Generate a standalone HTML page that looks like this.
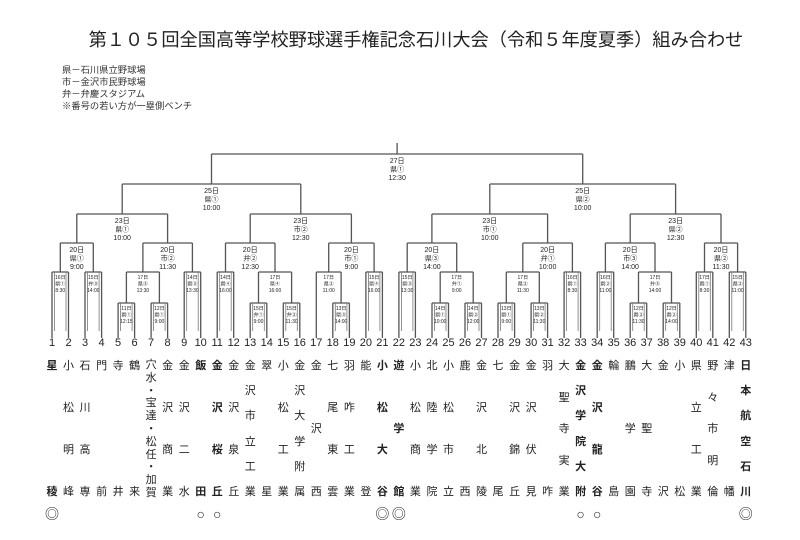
<!DOCTYPE html>
<html><head><meta charset="utf-8">
<style>
html,body{margin:0;padding:0;background:#fff;}
#wrap{position:relative;width:800px;height:540px;overflow:hidden;font-family:"Liberation Sans","Noto Sans CJK JP",sans-serif;color:#222;}
svg{position:absolute;left:0;top:0;}
.col{position:absolute;top:359px;height:140px;width:16px;display:flex;flex-direction:column;justify-content:space-between;align-items:center;font-size:11px;line-height:14px;}
.col span{display:block;height:14px;}
.b{font-weight:bold;}
.mk{position:absolute;top:506px;width:16px;text-align:center;font-size:14px;line-height:16px;}
</style></head><body><div id="wrap">
<svg width="800" height="540" xmlns="http://www.w3.org/2000/svg" font-family="Liberation Sans, Noto Sans CJK JP, sans-serif">
<text x="416" y="46" font-size="18.2" text-anchor="middle" fill="#222">第１０５回全国高等学校野球選手権記念石川大会（令和５年度夏季）組み合わせ</text>
<g font-size="9.3" fill="#333">
<text x="62" y="73">県－石川県立野球場</text>
<text x="62" y="85">市－金沢市民野球場</text>
<text x="62" y="97">弁－弁慶スタジアム</text>
<text x="62" y="109">※番号の若い方が一塁側ベンチ</text>
</g>
<g stroke="#555" stroke-width="1.3" fill="none">
<path d="M397.1,143 V154 M211.5,154 H582.7"/>
<path d="M211.5,154 V184 M122.2,184 H300.8 M582.7,154 V184 M489.8,184 H675.6"/>
<path d="M122.2,184 V214 M76.8,214 H167.6 M300.8,184 V214 M250.2,214 H351.4 M489.8,184 V214 M431.9,214 H547.6 M675.6,184 V214 M630.2,214 H721"/>
<path d="M76.8,214 V243 M60.3,243 H93.3 M167.6,214 V243 M142.9,243 H192.4 M250.2,214 V243 M225.5,243 H275 M351.4,214 V243 M328.7,243 H374.1 M431.9,214 V243 M407.2,243 H456.7 M547.6,214 V243 M522.8,243 H572.4 M630.2,214 V243 M605.4,243 H655 M721,214 V243 M704.5,243 H737.6"/>
<path d="M60.3,243V272 M93.3,243V272 M142.9,243V272 M192.4,243V272 M225.5,243V272 M275,243V272 M328.7,243V272 M374.1,243V272 M407.2,243V272 M456.7,243V272 M522.8,243V272 M572.4,243V272 M605.4,243V272 M655,243V272 M704.5,243V272 M737.6,243V272"/>
<path d="M52,272H68.5 M85,272H101.6 M126.4,272H159.4 M184.2,272H200.7 M217.2,272H233.7 M258.5,272H291.6 M316.3,272H341.1 M365.9,272H382.4 M398.9,272H415.4 M440.2,272H473.2 M506.3,272H539.3 M564.1,272H580.6 M597.2,272H613.7 M638.5,272H671.5 M696.3,272H712.8 M729.3,272H745.8"/>
<path d="M126.4,272V303 M159.4,272V303 M258.5,272V303 M291.6,272V303 M341.1,272V303 M440.2,272V303 M473.2,272V303 M506.3,272V303 M539.3,272V303 M638.5,272V303 M671.5,272V303"/>
<path d="M118.1,303H134.6 M151.1,303H167.6 M250.2,303H266.8 M283.3,303H299.8 M332.8,303H349.4 M432,303H448.5 M465,303H481.5 M498,303H514.6 M531.1,303H547.6 M630.2,303H646.7 M663.2,303H679.8"/>
<path d="M52,272V338 M68.5,272V338 M85,272V338 M101.6,272V338 M184.2,272V338 M200.7,272V338 M217.2,272V338 M233.7,272V338 M316.3,272V338 M365.9,272V338 M382.4,272V338 M398.9,272V338 M415.4,272V338 M564.1,272V338 M580.6,272V338 M597.2,272V338 M613.7,272V338 M696.3,272V338 M712.8,272V338 M729.3,272V338 M745.8,272V338"/>
<path d="M118.1,303V338 M134.6,303V338 M151.1,303V338 M167.6,303V338 M250.2,303V338 M266.8,303V338 M283.3,303V338 M299.8,303V338 M332.8,303V338 M349.4,303V338 M432,303V338 M448.5,303V338 M465,303V338 M481.5,303V338 M498,303V338 M514.6,303V338 M531.1,303V338 M547.6,303V338 M630.2,303V338 M646.7,303V338 M663.2,303V338 M679.8,303V338"/>
</g>
<g stroke="#777" stroke-width="0.8" fill="none">
<path d="M54.5,272V331 M66,272V331 M87.5,272V331 M99.1,272V331 M186.7,272V331 M198.2,272V331 M219.7,272V331 M231.2,272V331 M368.4,272V331 M379.9,272V331 M401.4,272V331 M412.9,272V331 M566.6,272V331 M578.1,272V331 M599.7,272V331 M611.2,272V331 M698.8,272V331 M710.3,272V331 M731.8,272V331 M743.3,272V331"/>
<path d="M120.6,303V331 M132.1,303V331 M153.6,303V331 M165.1,303V331 M252.7,303V331 M264.3,303V331 M285.8,303V331 M297.3,303V331 M335.3,303V331 M346.9,303V331 M434.5,303V331 M446,303V331 M467.5,303V331 M479,303V331 M500.5,303V331 M512.1,303V331 M533.6,303V331 M545.1,303V331 M632.7,303V331 M644.2,303V331 M665.7,303V331 M677.3,303V331"/>
</g>
<g font-size="7" text-anchor="middle" fill="#222">
<text x="397.1" y="163">27日</text><text x="397.1" y="171.5">県①</text><text x="397.1" y="180">12:30</text>
<text x="211.5" y="193">25日</text><text x="211.5" y="201.5">県①</text><text x="211.5" y="210">10:00</text>
<text x="582.7" y="193">25日</text><text x="582.7" y="201.5">県②</text><text x="582.7" y="210">10:00</text>
<text x="122.2" y="223">23日</text><text x="122.2" y="231.5">県①</text><text x="122.2" y="240">10:00</text>
<text x="300.8" y="223">23日</text><text x="300.8" y="231.5">市②</text><text x="300.8" y="240">12:30</text>
<text x="489.8" y="223">23日</text><text x="489.8" y="231.5">市①</text><text x="489.8" y="240">10:00</text>
<text x="675.6" y="223">23日</text><text x="675.6" y="231.5">県②</text><text x="675.6" y="240">12:30</text>
<text x="76.8" y="252">20日</text><text x="76.8" y="260.5">県①</text><text x="76.8" y="269">9:00</text>
<text x="167.6" y="252">20日</text><text x="167.6" y="260.5">市②</text><text x="167.6" y="269">11:30</text>
<text x="250.2" y="252">20日</text><text x="250.2" y="260.5">弁②</text><text x="250.2" y="269">12:30</text>
<text x="351.4" y="252">20日</text><text x="351.4" y="260.5">市①</text><text x="351.4" y="269">9:00</text>
<text x="431.9" y="252">20日</text><text x="431.9" y="260.5">県③</text><text x="431.9" y="269">14:00</text>
<text x="547.6" y="252">20日</text><text x="547.6" y="260.5">弁①</text><text x="547.6" y="269">10:00</text>
<text x="630.2" y="252">20日</text><text x="630.2" y="260.5">市③</text><text x="630.2" y="269">14:00</text>
<text x="721" y="252">20日</text><text x="721" y="260.5">県②</text><text x="721" y="269">11:30</text>
</g>
<g font-size="5" text-anchor="middle" fill="#222">
<text x="60.3" y="279">16日</text><text x="60.3" y="285.5">県①</text><text x="60.3" y="292">8:30</text>
<text x="93.3" y="279">15日</text><text x="93.3" y="285.5">弁③</text><text x="93.3" y="292">14:00</text>
<text x="142.9" y="279">17日</text><text x="142.9" y="285.5">県③</text><text x="142.9" y="292">13:30</text>
<text x="192.4" y="279">14日</text><text x="192.4" y="285.5">県③</text><text x="192.4" y="292">13:30</text>
<text x="225.5" y="279">14日</text><text x="225.5" y="285.5">県④</text><text x="225.5" y="292">16:00</text>
<text x="275" y="279">17日</text><text x="275" y="285.5">県④</text><text x="275" y="292">16:00</text>
<text x="328.7" y="279">17日</text><text x="328.7" y="285.5">県②</text><text x="328.7" y="292">11:00</text>
<text x="374.1" y="279">15日</text><text x="374.1" y="285.5">県④</text><text x="374.1" y="292">16:00</text>
<text x="407.2" y="279">15日</text><text x="407.2" y="285.5">県③</text><text x="407.2" y="292">13:30</text>
<text x="456.7" y="279">17日</text><text x="456.7" y="285.5">弁①</text><text x="456.7" y="292">9:00</text>
<text x="522.8" y="279">17日</text><text x="522.8" y="285.5">県②</text><text x="522.8" y="292">11:30</text>
<text x="572.4" y="279">16日</text><text x="572.4" y="285.5">県①</text><text x="572.4" y="292">8:30</text>
<text x="605.4" y="279">16日</text><text x="605.4" y="285.5">県②</text><text x="605.4" y="292">11:00</text>
<text x="655" y="279">17日</text><text x="655" y="285.5">弁③</text><text x="655" y="292">14:00</text>
<text x="704.5" y="279">17日</text><text x="704.5" y="285.5">県①</text><text x="704.5" y="292">8:30</text>
<text x="737.6" y="279">15日</text><text x="737.6" y="285.5">県②</text><text x="737.6" y="292">11:00</text>
<text x="126.4" y="310">11日</text><text x="126.4" y="316.5">県①</text><text x="126.4" y="323">12:15</text>
<text x="159.4" y="310">12日</text><text x="159.4" y="316.5">県①</text><text x="159.4" y="323">9:00</text>
<text x="258.5" y="310">15日</text><text x="258.5" y="316.5">弁①</text><text x="258.5" y="323">9:00</text>
<text x="291.6" y="310">15日</text><text x="291.6" y="316.5">弁②</text><text x="291.6" y="323">11:30</text>
<text x="341.1" y="310">13日</text><text x="341.1" y="316.5">県③</text><text x="341.1" y="323">14:00</text>
<text x="440.2" y="310">14日</text><text x="440.2" y="316.5">県①</text><text x="440.2" y="323">10:00</text>
<text x="473.2" y="310">14日</text><text x="473.2" y="316.5">県②</text><text x="473.2" y="323">12:00</text>
<text x="506.3" y="310">13日</text><text x="506.3" y="316.5">県①</text><text x="506.3" y="323">9:00</text>
<text x="539.3" y="310">13日</text><text x="539.3" y="316.5">県②</text><text x="539.3" y="323">11:30</text>
<text x="638.5" y="310">12日</text><text x="638.5" y="316.5">県②</text><text x="638.5" y="323">11:30</text>
<text x="671.5" y="310">12日</text><text x="671.5" y="316.5">県②</text><text x="671.5" y="323">14:00</text>
</g>
<g font-size="11" text-anchor="middle" fill="#222">
<text x="52" y="346">1</text><text x="68.5" y="346">2</text><text x="85" y="346">3</text><text x="101.6" y="346">4</text><text x="118.1" y="346">5</text><text x="134.6" y="346">6</text><text x="151.1" y="346">7</text><text x="167.6" y="346">8</text><text x="184.2" y="346">9</text><text x="200.7" y="346">10</text><text x="217.2" y="346">11</text><text x="233.7" y="346">12</text><text x="250.2" y="346">13</text><text x="266.8" y="346">14</text><text x="283.3" y="346">15</text><text x="299.8" y="346">16</text><text x="316.3" y="346">17</text><text x="332.8" y="346">18</text><text x="349.4" y="346">19</text><text x="365.9" y="346">20</text><text x="382.4" y="346">21</text><text x="398.9" y="346">22</text><text x="415.4" y="346">23</text><text x="432" y="346">24</text><text x="448.5" y="346">25</text><text x="465" y="346">26</text><text x="481.5" y="346">27</text><text x="498" y="346">28</text><text x="514.6" y="346">29</text><text x="531.1" y="346">30</text><text x="547.6" y="346">31</text><text x="564.1" y="346">32</text><text x="580.6" y="346">33</text><text x="597.2" y="346">34</text><text x="613.7" y="346">35</text><text x="630.2" y="346">36</text><text x="646.7" y="346">37</text><text x="663.2" y="346">38</text><text x="679.8" y="346">39</text><text x="696.3" y="346">40</text><text x="712.8" y="346">41</text><text x="729.3" y="346">42</text><text x="745.8" y="346">43</text>
</g>
</svg>

<div class="col b" style="left:44px"><span>星</span><span>稜</span></div>
<div class="col" style="left:60.5px"><span>小</span><span>松</span><span>明</span><span>峰</span></div>
<div class="col" style="left:77px"><span>石</span><span>川</span><span>高</span><span>専</span></div>
<div class="col" style="left:93.6px"><span>門</span><span>前</span></div>
<div class="col" style="left:110.1px"><span>寺</span><span>井</span></div>
<div class="col" style="left:126.6px"><span>鶴</span><span>来</span></div>
<div class="col" style="left:143.1px;line-height:12px"><span style="height:12px">穴</span><span style="height:12px">水</span><span style="height:12px">・</span><span style="height:12px">宝</span><span style="height:12px">達</span><span style="height:12px">・</span><span style="height:12px">松</span><span style="height:12px">任</span><span style="height:12px">・</span><span style="height:12px">加</span><span style="height:12px">賀</span></div>
<div class="col" style="left:159.6px"><span>金</span><span>沢</span><span>商</span><span>業</span></div>
<div class="col" style="left:176.2px"><span>金</span><span>沢</span><span>二</span><span>水</span></div>
<div class="col b" style="left:192.7px"><span>飯</span><span>田</span></div>
<div class="col b" style="left:209.2px"><span>金</span><span>沢</span><span>桜</span><span>丘</span></div>
<div class="col" style="left:225.7px"><span>金</span><span>沢</span><span>泉</span><span>丘</span></div>
<div class="col" style="left:242.2px"><span>金</span><span>沢</span><span>市</span><span>立</span><span>工</span><span>業</span></div>
<div class="col" style="left:258.8px"><span>翠</span><span>星</span></div>
<div class="col" style="left:275.3px"><span>小</span><span>松</span><span>工</span><span>業</span></div>
<div class="col" style="left:291.8px"><span>金</span><span>沢</span><span>大</span><span>学</span><span>附</span><span>属</span></div>
<div class="col" style="left:308.3px"><span>金</span><span>沢</span><span>西</span></div>
<div class="col" style="left:324.8px"><span>七</span><span>尾</span><span>東</span><span>雲</span></div>
<div class="col" style="left:341.4px"><span>羽</span><span>咋</span><span>工</span><span>業</span></div>
<div class="col" style="left:357.9px"><span>能</span><span>登</span></div>
<div class="col b" style="left:374.4px"><span>小</span><span>松</span><span>大</span><span>谷</span></div>
<div class="col b" style="left:390.9px"><span>遊</span><span>学</span><span>館</span></div>
<div class="col" style="left:407.4px"><span>小</span><span>松</span><span>商</span><span>業</span></div>
<div class="col" style="left:424px"><span>北</span><span>陸</span><span>学</span><span>院</span></div>
<div class="col" style="left:440.5px"><span>小</span><span>松</span><span>市</span><span>立</span></div>
<div class="col" style="left:457px"><span>鹿</span><span>西</span></div>
<div class="col" style="left:473.5px"><span>金</span><span>沢</span><span>北</span><span>陵</span></div>
<div class="col" style="left:490px"><span>七</span><span>尾</span></div>
<div class="col" style="left:506.6px"><span>金</span><span>沢</span><span>錦</span><span>丘</span></div>
<div class="col" style="left:523.1px"><span>金</span><span>沢</span><span>伏</span><span>見</span></div>
<div class="col" style="left:539.6px"><span>羽</span><span>咋</span></div>
<div class="col" style="left:556.1px"><span>大</span><span>聖</span><span>寺</span><span>実</span><span>業</span></div>
<div class="col b" style="left:572.6px"><span>金</span><span>沢</span><span>学</span><span>院</span><span>大</span><span>附</span></div>
<div class="col b" style="left:589.2px"><span>金</span><span>沢</span><span>龍</span><span>谷</span></div>
<div class="col" style="left:605.7px"><span>輪</span><span>島</span></div>
<div class="col" style="left:622.2px"><span>鵬</span><span>学</span><span>園</span></div>
<div class="col" style="left:638.7px"><span>大</span><span>聖</span><span>寺</span></div>
<div class="col" style="left:655.2px"><span>金</span><span>沢</span></div>
<div class="col" style="left:671.8px"><span>小</span><span>松</span></div>
<div class="col" style="left:688.3px"><span>県</span><span>立</span><span>工</span><span>業</span></div>
<div class="col" style="left:704.8px"><span>野</span><span>々</span><span>市</span><span>明</span><span>倫</span></div>
<div class="col" style="left:721.3px"><span>津</span><span>幡</span></div>
<div class="col b" style="left:737.8px"><span>日</span><span>本</span><span>航</span><span>空</span><span>石</span><span>川</span></div>

<div class="mk" style="left:44px">◎</div>
<div class="mk" style="left:192.7px">○</div>
<div class="mk" style="left:209.2px">○</div>
<div class="mk" style="left:374.4px">◎</div>
<div class="mk" style="left:390.9px">◎</div>
<div class="mk" style="left:572.6px">○</div>
<div class="mk" style="left:589.2px">○</div>
<div class="mk" style="left:737.8px">◎</div>
</div></body></html>
